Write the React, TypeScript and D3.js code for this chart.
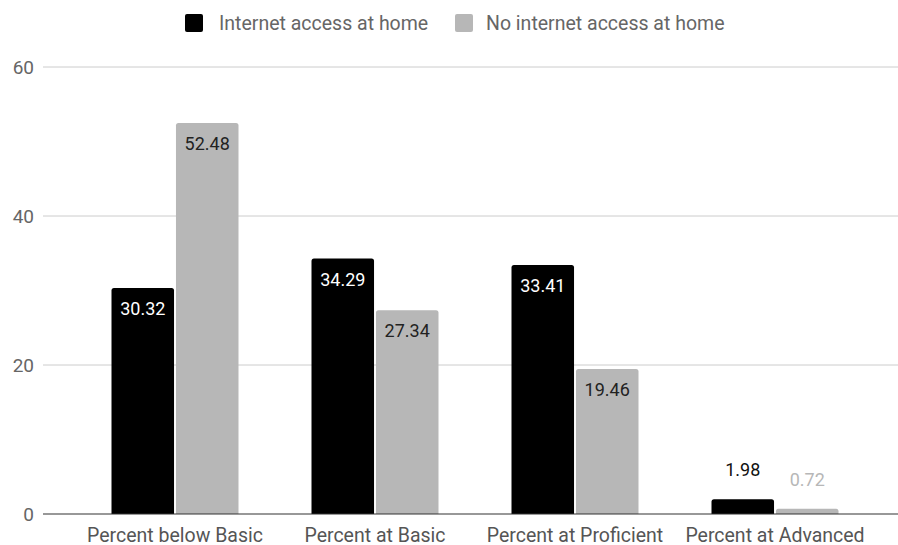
import React from "react";
import * as d3 from "d3";

const categories = ["Percent below Basic", "Percent at Basic", "Percent at Proficient", "Percent at Advanced"];
const seriesNames = ["Internet access at home", "No internet access at home"];
const withInternet = [30.32, 34.29, 33.41, 1.98];
const withoutInternet = [52.48, 27.34, 19.46, 0.72];
const yTicks = [0, 20, 40, 60];
const colors = ["#000000", "#b7b7b7"];

const W = 898, H = 545;

export default function App() {
  const y = d3.scaleLinear().domain([0, 60]).range([514, 67]);
  const x0 = d3.scaleBand().domain(categories).range([75, 875]).paddingInner(0.365).paddingOuter(0.1825);
  const x1 = d3.scaleBand().domain(["0", "1"]).range([0, x0.bandwidth()]).paddingInner(0.03);
  const series = [withInternet, withoutInternet];
  const font = "Roboto, 'Noto Sans', sans-serif";
  const r = 2.5;
  const barPath = (x: number, w: number, top: number, bottom: number) => {
    const rr = Math.min(r, (bottom - top));
    return `M${x},${bottom}V${top + rr}Q${x},${top} ${x + rr},${top}H${x + w - rr}Q${x + w},${top} ${x + w},${top + rr}V${bottom}Z`;
  };
  return (
    <svg width={W} height={H} style={{ position: "absolute", left: 0, top: 0, background: "#fff" }} fontFamily={font}>
      <rect x={0} y={0} width={W} height={H} fill="#fff" />
      {/* legend */}
      <rect x={185} y={14} width={18} height={18} rx={2} fill={colors[0]} />
      <text x={219} y={30} fontSize={19.5} fill="#666">{seriesNames[0]}</text>
      <rect x={455} y={14} width={18} height={18} rx={2} fill={colors[1]} />
      <text x={486} y={30} fontSize={19.5} fill="#666">{seriesNames[1]}</text>
      {/* grid */}
      {yTicks.map((t) => (
        <g key={t}>
          {t !== 0 && <line x1={43} x2={898} y1={y(t)} y2={y(t)} stroke="#cccccc" strokeWidth={1} />}
          <text x={34} y={y(t) + 7} fontSize={19} fill="#666" textAnchor="end">{t}</text>
        </g>
      ))}
      {/* bars */}
      {categories.map((c, i) => (
        <g key={c}>
          {series.map((s, j) => {
            const v = s[i];
            const bx = (x0(c) ?? 0) + (x1(String(j)) ?? 0);
            const bw = x1.bandwidth();
            const top = y(v);
            const inside = y(0) - top > 40;
            const cx = bx + bw / 2;
            return (
              <g key={j}>
                <path d={barPath(bx, bw, top, y(0))} fill={colors[j]} />
                <text
                  x={cx}
                  y={inside ? top + 27 : top - 23}
                  fontSize={18}
                  textAnchor="middle"
                  fill={inside ? (j === 0 ? "#ffffff" : "#222") : (j === 0 ? "#111" : "#b7b7b7")}
                >
                  {v.toFixed(2)}
                </text>
              </g>
            );
          })}
          <text x={(x0(c) ?? 0) + x0.bandwidth() / 2} y={542} fontSize={19.5} fill="#555" textAnchor="middle">{c}</text>
        </g>
      ))}
      <line x1={43} x2={898} y1={y(0)} y2={y(0)} stroke="#333" strokeWidth={1.2} />
    </svg>
  );
}
